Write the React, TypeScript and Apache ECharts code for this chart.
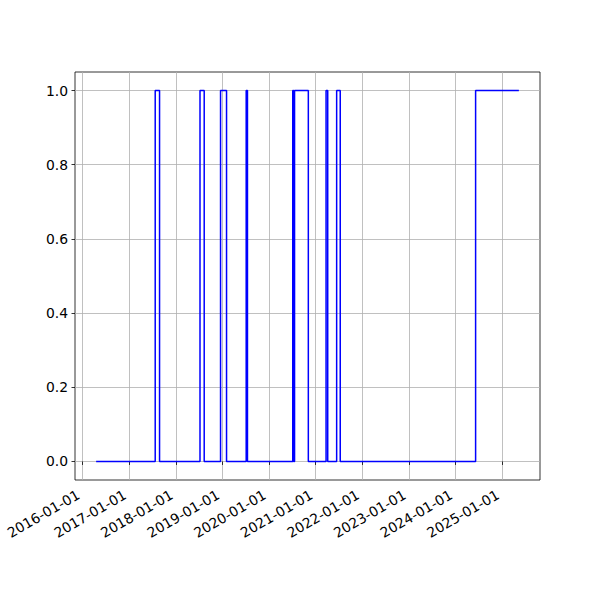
import React, { useEffect, useRef } from "react";
import * as echarts from "echarts";

// Dates where the state changes, and the state that holds from that date on
const changeDates = [
  "2016-04-16", "2017-07-23", "2017-08-26", "2018-07-09", "2018-08-11",
  "2018-12-17", "2019-02-02", "2019-07-06", "2019-07-16", "2020-07-05",
  "2020-07-12", "2020-07-19", "2020-11-04", "2021-03-23", "2021-04-05",
  "2021-06-14", "2021-07-12", "2024-06-07", "2025-05-12",
];
const states = [0, 1, 0, 1, 0, 1, 0, 1, 0, 1, 0, 1, 0, 1, 0, 1, 0, 1, 1];

const xTickLabels = [
  "2016-01-01", "2017-01-01", "2018-01-01", "2019-01-01", "2020-01-01",
  "2021-01-01", "2022-01-01", "2023-01-01", "2024-01-01", "2025-01-01",
];
const yTicks = [0, 0.2, 0.4, 0.6, 0.8, 1.0];

const toTs = (s: string) => Date.parse(s + "T00:00:00Z");

export default function App() {
  const ref = useRef<HTMLDivElement>(null);
  useEffect(() => {
    if (!ref.current) return;
    const chart = echarts.init(ref.current, undefined, { renderer: "svg" });
    const data = changeDates.map((d, i) => [toTs(d), states[i]]);
    const t0 = toTs(changeDates[0]);
    const t1 = toTs(changeDates[changeDates.length - 1]);
    const span = t1 - t0;
    const xTicks = xTickLabels.map(toTs);
    const font = "DejaVu Sans";
    const pad = (n: number) => (n < 10 ? "0" + n : "" + n);
    chart.setOption({
      animation: false,
      grid: {
        left: 75,
        top: 72,
        right: 60,
        bottom: 120,
        show: true,
        borderColor: "#000",
        borderWidth: 0.8,
        backgroundColor: "transparent",
      },
      xAxis: {
        type: "value",
        min: t0 - 0.05 * span,
        max: t1 + 0.05 * span,
        axisLine: { show: false },
        axisTick: {
          show: true,
          length: 3.5,
          customValues: xTicks,
          lineStyle: { color: "#000", width: 0.8 },
        },
        axisLabel: {
          show: true,
          customValues: xTicks,
          rotate: 30,
          margin: 11,
          padding: [0, 5, 0, 0],
          color: "#000",
          fontFamily: font,
          fontSize: 13.9,
          formatter: (v: number) => {
            const d = new Date(v);
            return `${d.getUTCFullYear()}-${pad(d.getUTCMonth() + 1)}-${pad(d.getUTCDate())}`;
          },
        },
        splitLine: {
          show: true,
          lineStyle: { color: "#b0b0b0", width: 0.8 },
        },
      },
      yAxis: {
        type: "value",
        min: -0.05,
        max: 1.05,
        axisLine: { show: false },
        axisTick: {
          show: true,
          length: 3.5,
          customValues: yTicks,
          lineStyle: { color: "#000", width: 0.8 },
        },
        axisLabel: {
          show: true,
          customValues: yTicks,
          margin: 7,
          color: "#000",
          fontFamily: font,
          fontSize: 13.9,
          formatter: (v: number) => v.toFixed(1),
        },
        splitLine: {
          show: true,
          lineStyle: { color: "#b0b0b0", width: 0.8 },
        },
      },
      series: [
        {
          type: "line",
          step: "end",
          data,
          showSymbol: false,
          symbol: "none",
          lineStyle: { color: "#0000ff", width: 1.5 },
        },
      ],
    });
    return () => chart.dispose();
  }, []);
  return (
    <div
      ref={ref}
      style={{ position: "fixed", left: 0, top: 0, width: 600, height: 600, background: "#fff" }}
    />
  );
}
